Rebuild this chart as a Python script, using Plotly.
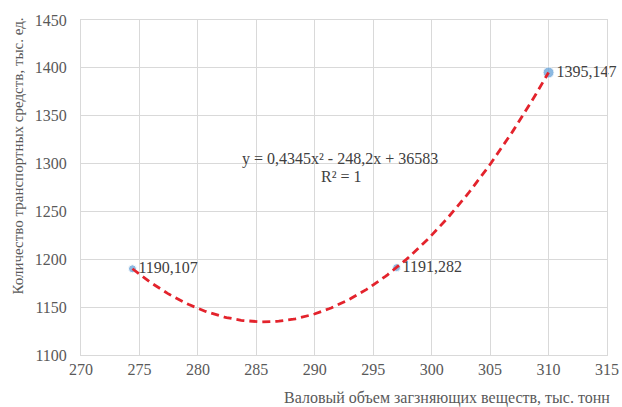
import numpy as np
import plotly.graph_objects as go

# Data
x_vals = [274.4, 297.0, 310.0]
y_vals = [1190.107, 1191.282, 1395.147]
point_labels = ["1190,107", "1191,282", "1395,147"]
x_ticks = [270, 275, 280, 285, 290, 295, 300, 305, 310, 315]
y_ticks = [1100, 1150, 1200, 1250, 1300, 1350, 1400, 1450]
equation_text = "y = 0,4345x² - 248,2x + 36583"
r2_text = "R² = 1"
x_title = "Валовый объем загзняющих веществ, тыс. тонн"
y_title = "Количество транспортных средств, тыс. ед."

FONT = "Liberation Serif"
TXT = "#595959"
GRID = "#d9d9d9"

coef = np.polyfit(x_vals, y_vals, 2)
xt = np.linspace(min(x_vals), max(x_vals), 200)
yt = np.polyval(coef, xt)

fig = go.Figure()
fig.add_trace(go.Scatter(
    x=x_vals, y=y_vals, mode="markers+text",
    marker=dict(color="#5b9bd5", size=[8, 8, 11]),
    text=point_labels, textposition="middle right",
    textfont=dict(family=FONT, size=16, color="#404040"),
    cliponaxis=False, showlegend=False))
fig.add_trace(go.Scatter(
    x=xt, y=yt, mode="lines",
    line=dict(color="#e3232c", width=2.8, dash="8px,5px"),
    hoverinfo="skip", showlegend=False))

fig.add_annotation(xref="x", yref="y", x=292.2, y=1305, text=equation_text,
                   showarrow=False, font=dict(family=FONT, size=16, color="#404040"))
fig.add_annotation(xref="x", yref="y", x=292.3, y=1286, text=r2_text,
                   showarrow=False, font=dict(family=FONT, size=16, color="#404040"))
fig.add_annotation(xref="paper", yref="paper", x=1.01, y=-0.128, xanchor="right", yanchor="middle",
                   text=x_title, showarrow=False,
                   font=dict(family=FONT, size=16, color=TXT))
fig.add_annotation(xref="paper", yref="paper", x=-0.12, y=0.595, xanchor="center", yanchor="middle",
                   textangle=-90, text=y_title, showarrow=False,
                   font=dict(family=FONT, size=15, color=TXT))

fig.update_xaxes(range=[270, 315], tickvals=x_ticks, ticktext=[str(v) for v in x_ticks],
                 showgrid=True, gridcolor=GRID, gridwidth=1, zeroline=False,
                 showline=True, linecolor=GRID, mirror=True, automargin=False,
                 tickfont=dict(family=FONT, size=16, color=TXT), ticks="")
fig.update_yaxes(range=[1100, 1450], tickvals=y_ticks, ticktext=[str(v) for v in y_ticks],
                 showgrid=True, gridcolor=GRID, gridwidth=1, zeroline=False,
                 showline=True, linecolor=GRID, mirror=True, ticklabelstandoff=10,
                 automargin=False,
                 tickfont=dict(family=FONT, size=16, color=TXT), ticks="")
fig.update_layout(width=622, height=407, margin=dict(l=81, r=15, t=20, b=52),
                  paper_bgcolor="white", plot_bgcolor="white",
                  font=dict(family=FONT))
fig.write_html("out.html", config={"displayModeBar": False})

with open("out.html", encoding="utf-8") as f:
    html = f.read()
html = html.replace("<head>", "<head><style>html,body{margin:0;padding:0;}</style>", 1)
with open("out.html", "w", encoding="utf-8") as f:
    f.write(html)
